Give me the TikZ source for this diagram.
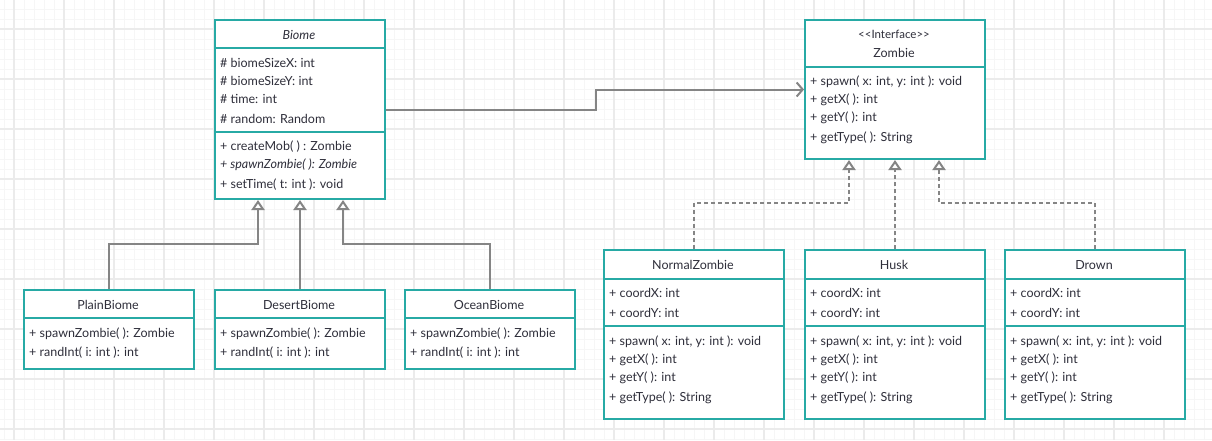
\documentclass[tikz,border=0pt]{standalone}
\usepackage{fontspec}
\setmainfont{Lato}
\usetikzlibrary{arrows.meta}
\definecolor{umlteal}{HTML}{27AAA5}
\definecolor{umltext}{HTML}{2E2E3A}
\definecolor{umlline}{HTML}{858585}
\definecolor{gridmajor}{HTML}{EBEBEB}
\definecolor{gridminor}{HTML}{F6F6F6}
\newcommand{\umlfont}{\fontsize{12.5}{15}\selectfont}
\tikzset{
  classbox/.style={draw=umlteal, line width=2pt, fill=white, anchor=north west, inner sep=0pt},
  sepline/.style={draw=umlteal, line width=2pt},
  member/.style={anchor=west, inner sep=0pt, text=umltext, font=\umlfont},
  ctitle/.style={inner sep=0pt, text=umltext, font=\umlfont},
  inherit/.style={draw=umlline, line width=2pt, -{Triangle[open, length=10pt, width=13pt, fill=white]}},
  realize/.style={inherit, dash pattern=on 4pt off 3pt},
  assoc/.style={draw=umlline, line width=2pt, -{Straight Barb[length=6pt, width=14pt]}}
}

\begin{document}
\begin{tikzpicture}[x=1pt,y=-1pt]
  \useasboundingbox[fill=white] (0,0) rectangle (1212,440);
  % background grid
  \foreach \x in {4,14,...,1204} \draw[gridminor] (\x,0) -- (\x,440);
  \foreach \y in {9,19,...,439} \draw[gridminor] (0,\y) -- (1212,\y);
  \foreach \x in {14,64,...,1164} \draw[gridmajor, line width=1.3pt] (\x,0) -- (\x,440);
  \foreach \y in {29,79,...,429} \draw[gridmajor, line width=1.3pt] (0,\y) -- (1212,\y);

  % abstract class
  \node[classbox, minimum width=170pt, minimum height=179pt] (biome) at (214,19) {};
  \draw[sepline] (214,48) -- (384,48);
  \draw[sepline] (214,132) -- (384,132);
  \node[ctitle, font=\umlfont\itshape] at (299,35) {Biome};
  \node[member] at (220,63) {\# biomeSizeX: int};
  \node[member] at (220,81) {\# biomeSizeY: int};
  \node[member] at (220,99) {\# time: int};
  \node[member] at (220,119) {\# random: Random};
  \node[member] at (220,147) {+ createMob( ) : Zombie};
  \node[member, font=\umlfont\itshape] at (220,165) {+ spawnZombie( ): Zombie};
  \node[member] at (220,185) {+ setTime( t: int ): void};

  % interface
  \node[classbox, minimum width=180pt, minimum height=139pt] (zombie) at (804,19) {};
  \draw[sepline] (804,67) -- (984,67);
  \node[ctitle, font=\fontsize{11.5}{13}\selectfont] at (894,34) {{<}{<}Interface{>}{>}};
  \node[ctitle] at (894,53) {Zombie};
  \node[member] at (810,82) {+ spawn( x: int, y: int ): void};
  \node[member] at (810,100) {+ getX( ): int};
  \node[member] at (810,118) {+ getY( ): int};
  \node[member] at (810,138) {+ getType( ): String};

  % biome subclasses
  \foreach \name/\x/\label in {plainbiome/23/PlainBiome, desertbiome/214/DesertBiome, oceanbiome/404/OceanBiome}{
    \node[classbox, minimum width=170pt, minimum height=79pt] (\name) at (\x,289) {};
    \draw[sepline] (\x,318) -- ++(170,0);
    \node[ctitle] at (\x+85,305) {\label};
    \node[member] at (\x+6,334) {+ spawnZombie( ): Zombie};
    \node[member] at (\x+6,353) {+ randInt( i: int ): int};
  }

  % zombie implementations
  \foreach \name/\x/\label in {normalzombie/603/NormalZombie, husk/804/Husk, drown/1004/Drown}{
    \node[classbox, minimum width=180pt, minimum height=169pt] (\name) at (\x,249) {};
    \draw[sepline] (\x,279) -- ++(180,0);
    \draw[sepline] (\x,326) -- ++(180,0);
    \node[ctitle] at (\x+90,265) {\label};
    \node[member] at (\x+6,293) {+ coordX: int};
    \node[member] at (\x+6,313) {+ coordY: int};
    \node[member] at (\x+6,342) {+ spawn( x: int, y: int ): void};
    \node[member] at (\x+6,360) {+ getX( ): int};
    \node[member] at (\x+6,378) {+ getY( ): int};
    \node[member] at (\x+6,398) {+ getType( ): String};
  }

  % relations
  \draw[assoc] (biome.east) -- ++(210,0) |- (zombie.west);
  \draw[inherit] (plainbiome.north) -- ++(0,-45) -| ([xshift=-42pt]biome.south);
  \draw[inherit] (desertbiome.north) -- (biome.south);
  \draw[inherit] (oceanbiome.north) -- ++(0,-45) -| ([xshift=43pt]biome.south);
  \draw[realize] (normalzombie.north) -- ++(0,-46) -| ([xshift=-46pt]zombie.south);
  \draw[realize] (husk.north) -- (zombie.south);
  \draw[realize] (drown.north) -- ++(0,-46) -| ([xshift=44pt]zombie.south);
\end{tikzpicture}
\end{document}
